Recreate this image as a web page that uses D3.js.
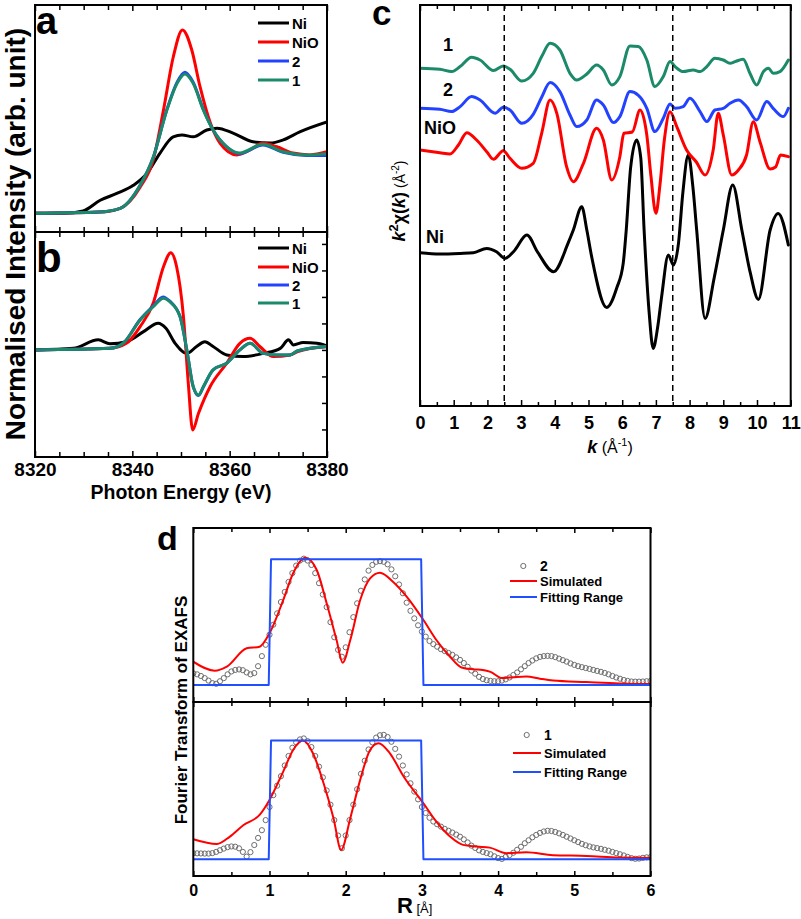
<!DOCTYPE html>
<html><head><meta charset="utf-8">
<script src="https://cdn.jsdelivr.net/npm/d3@7"></script>
<style>
body{margin:0;background:#fff}
svg{display:block}
text{font-family:"Liberation Sans",Arial,Helvetica,sans-serif}
</style>
</head><body>
<svg id="chart" width="801" height="919"></svg>
<script>
// ================= DATA =================
// Panel a : normalised XANES (energy in eV)
const aNiE  = [8320,8326,8329.9,8333.4,8336.8,8340.2,8343,8345.7,8348.4,8350.2,8352.5,8355.3,8357.4,8360.7,8364.8,8368.3,8371,8374.4,8380];
const aNiV  = [0,0,0.04,0.21,0.32,0.45,0.64,0.97,1.23,1.26,1.23,1.34,1.37,1.29,1.15,1.13,1.18,1.31,1.47];
const aNiOE = [8320,8333.4,8337.5,8341.6,8344.3,8346.4,8348.4,8350.3,8352.2,8353.9,8356,8358,8361.5,8364.2,8366.8,8369.7,8373,8376.5,8380];
const aNiOV = [0,0.02,0.08,0.42,0.86,1.66,2.51,2.95,2.63,2.04,1.46,1.13,0.94,1.02,1.13,1.07,0.97,0.94,0.99];
const aS2E  = [8320,8333,8337.5,8341.6,8344.3,8347.1,8349.2,8350.8,8352.5,8354.6,8356.6,8359.4,8362.1,8366.8,8371,8375.8,8380];
const aS2V  = [0,0.02,0.08,0.45,0.9,1.67,2.11,2.27,2.11,1.67,1.34,1.07,0.96,1.10,0.98,0.93,0.93];
const aS1E  = [8320,8333,8337.5,8341.6,8344.3,8347.1,8349.2,8350.8,8352.5,8354.6,8356.6,8359.4,8362.1,8366.8,8371,8375.8,8380];
const aS1V  = [0,0.02,0.08,0.45,0.9,1.66,2.09,2.24,2.09,1.66,1.34,1.07,0.97,1.11,0.99,0.94,0.96];

// Panel b : first derivative
const bNiE  = [8320,8327.9,8333,8335.4,8338.8,8342.3,8345.3,8346.9,8348.8,8351.2,8353.2,8354.9,8356.6,8359.4,8362.8,8366.9,8370.4,8372.1,8373.1,8375.1,8377.9,8380];
const bNiV  = [0,0.06,0.38,0.23,0.31,0.69,1.01,0.82,0.25,-0.13,0.13,0.31,0.13,-0.19,-0.25,-0.13,0.06,0.38,0.19,0.28,0.25,0.15];
const bNiOE = [8320,8335.4,8338.8,8341.6,8344.3,8346.4,8347.9,8349.1,8350.5,8351.5,8352.4,8353.6,8356,8359.4,8362.1,8364.2,8366.2,8369,8372.4,8374,8380];
const bNiOV = [0,0.06,0.25,0.88,1.77,3.14,3.67,3.14,1.26,-1.26,-3.02,-2.39,-1.38,-0.5,0.25,0.44,0.13,-0.25,-0.19,-0.06,0.13];
const bS2E  = [8320,8335.4,8338.1,8341.6,8344.3,8346.3,8347.7,8349.8,8351.2,8352.5,8353.6,8354.6,8356.6,8359.4,8362.1,8364.2,8366.9,8369.7,8372.4,8374,8380];
const bS2V  = [0,0.06,0.25,1.15,1.66,2.0,1.84,1.26,0,-1.38,-1.72,-1.40,-0.75,-0.5,0,0.25,-0.13,-0.19,-0.19,-0.03,0.13];
const bS1E  = [8320,8335.4,8338.1,8341.6,8344.3,8346.4,8347.7,8349.8,8351.2,8352.5,8353.6,8354.6,8356.6,8359.4,8362.1,8364.2,8366.9,8369.7,8372.4,8374,8380];
const bS1V  = [0,0.06,0.25,1.13,1.63,1.95,1.82,1.26,0,-1.38,-1.70,-1.38,-0.75,-0.5,0,0.25,-0.13,-0.19,-0.19,-0.03,0.13];

const energyMajor = [8320,8340,8360,8380];
const energyMinor = [8325,8330,8335,8345,8350,8355,8365,8370,8375];
const bRightTicks = [-3,-2,-1,0,1,2,3,4];
const abLegend = ["Ni","NiO","2","1"];

// Panel c : k^2 chi(k), each curve relative to its own baseline
const cNiK  = [0,0.59,1.19,1.58,1.98,2.27,2.52,2.8,3.17,3.5,3.96,4.4,4.55,4.8,4.95,5.1,5.54,5.84,6.03,6.12,6.25,6.43,6.55,6.65,6.8,6.92,7.05,7.17,7.37,7.52,7.67,7.8,7.96,8.1,8.21,8.46,8.73,9.0,9.28,9.55,9.8,10.04,10.39,10.63,10.93];
const cNiV  = [0,-0.13,-0.07,0,0.43,0.1,-0.57,0.2,1.77,0,-1.9,1.0,2.27,4.6,2.27,-0.5,-5.47,-3.5,-1.07,2.27,8.5,11.27,9.5,2.27,-6.0,-9.57,-7.5,-4.4,-0.23,-1.23,0.93,6.0,9.77,6.5,2.27,-6.57,-2.5,2.27,6.77,2.27,-2.0,-4.67,2.27,3.93,0.77];
const cNiOK = [0,0.59,0.89,1.14,1.39,1.68,1.98,2.18,2.47,2.67,3.02,3.36,3.61,3.86,4.06,4.35,4.55,4.85,5.24,5.44,5.69,5.93,6.05,6.3,6.53,6.73,6.85,7.0,7.12,7.25,7.42,7.62,7.91,8.2,8.46,8.7,8.85,9.0,9.25,9.45,9.69,9.89,10.09,10.39,10.55,10.7,10.93];
const cNiOV = [0,-0.27,-0.4,0.5,1.73,1.0,-0.17,-0.93,-0.07,-0.83,-1.83,-1.33,1.67,5.0,3.67,-1.67,-3.17,-1.33,2.17,1.0,-3.0,-0.67,1.67,1.8,4.0,1.5,-2.5,-6.33,-3.5,1.0,3.83,2.33,0,-1.2,-2.5,0,3.67,1.5,-2.5,-2.0,-0.5,2.83,0.8,-1.9,-1.7,-0.5,-0.67];
const cS2K  = [0,0.59,0.94,1.19,1.53,1.78,2.23,2.47,2.67,3.02,3.36,3.61,3.86,4.15,4.45,4.65,4.95,5.24,5.44,5.74,5.93,6.23,6.48,6.73,6.97,7.22,7.42,7.57,7.81,8.01,8.31,8.51,8.75,9.0,9.2,9.45,9.69,9.99,10.29,10.48,10.78,10.93];
const cS2V  = [0,-0.1,-0.33,0.17,1.17,0.83,-0.5,0.1,-0.17,-1.5,-0.6,1.1,2.57,1.67,-0.67,-1.83,-1.17,0.83,0.33,-1.43,-0.83,1.67,1.3,0,-2.33,-1.0,0.43,0,0.17,1.0,-0.33,-1.33,-0.17,0,0.5,0.83,0.17,-1.17,0.67,0,-0.83,0];
const cS1K  = [0,0.59,0.94,1.19,1.53,1.78,2.18,2.47,2.67,3.02,3.36,3.61,3.86,4.15,4.45,4.65,4.95,5.24,5.44,5.69,5.93,6.23,6.48,6.73,6.97,7.22,7.42,7.57,7.81,8.11,8.31,8.51,8.75,9.0,9.2,9.35,9.59,9.79,9.99,10.19,10.34,10.48,10.68,10.93];
const cS1V  = [0,-0.1,-0.33,0.17,1.1,0.83,-0.23,0.23,-0.1,-1.27,-0.5,1.17,2.5,1.83,-0.5,-1.17,-0.57,0.33,-0.17,-1.67,-0.83,2.23,2.17,0.83,-1.83,-0.83,0.67,0.17,-0.33,-0.17,-0.33,0.17,1.0,0.83,0.5,0.67,0.9,-0.5,-1.67,-0.33,0,-0.5,-0.33,0.83];
const cOffsets = [0, 10.27, 14.44, 18.44];           // Ni, NiO, 2, 1
const cCurveLabels = ["Ni","NiO","2","1"];
const kMajor = [0,1,2,3,4,5,6,7,8,9,10,11];
const kMinor = [0.5,1.5,2.5,3.5,4.5,5.5,6.5,7.5,8.5,9.5,10.5];
const kWindow = [2.5, 7.5];

// Panel d : Fourier transform magnitude (normalised)
const dR = d3.range(0, 121).map(i => +(i * 0.05).toFixed(2));
const dExp2 = [0.093,0.085,0.072,0.055,0.035,0.015,0.010,0.030,0.055,0.085,0.108,0.120,0.124,0.118,0.100,0.085,0.095,0.150,0.230,0.320,
 0.400,0.480,0.570,0.660,0.740,0.820,0.890,0.950,0.990,1.005,0.990,0.955,0.890,0.810,0.720,0.620,0.500,0.380,0.280,0.225,
 0.300,0.420,0.540,0.650,0.750,0.840,0.910,0.955,0.980,0.985,0.980,0.960,0.920,0.865,0.800,0.730,0.655,0.590,0.530,0.475,
 0.425,0.385,0.350,0.325,0.305,0.285,0.270,0.255,0.240,0.220,0.200,0.175,0.145,0.115,0.090,0.065,0.048,0.038,0.033,0.030,
 0.030,0.035,0.045,0.060,0.080,0.100,0.125,0.150,0.175,0.195,0.212,0.224,0.230,0.232,0.230,0.222,0.210,0.198,0.186,0.172,
 0.160,0.150,0.142,0.135,0.128,0.120,0.112,0.105,0.096,0.085,0.072,0.060,0.050,0.040,0.033,0.028,0.027,0.027,0.028,0.030,0.032];
const dExp1 = [0.051,0.050,0.049,0.048,0.048,0.052,0.062,0.076,0.090,0.102,0.108,0.106,0.092,0.062,0.022,0.060,0.120,0.180,0.245,0.330,
 0.440,0.540,0.620,0.700,0.790,0.870,0.940,0.985,1.010,1.018,0.995,0.945,0.870,0.780,0.690,0.580,0.460,0.330,0.200,0.093,
 0.200,0.330,0.460,0.590,0.720,0.830,0.925,0.985,1.025,1.045,1.048,1.030,0.990,0.930,0.865,0.790,0.715,0.640,0.570,0.505,
 0.440,0.390,0.350,0.318,0.295,0.275,0.256,0.240,0.225,0.208,0.190,0.168,0.142,0.115,0.095,0.075,0.062,0.052,0.042,0.025,
 0.010,0.003,0.020,0.035,0.055,0.080,0.105,0.135,0.160,0.185,0.205,0.222,0.234,0.240,0.238,0.230,0.218,0.205,0.190,0.175,
 0.160,0.145,0.130,0.118,0.108,0.100,0.094,0.088,0.080,0.072,0.062,0.052,0.042,0.032,0.020,0.010,0.004,0.006,0.012,0.016,0.018];
const dSim2R = [0,0.28,0.44,0.7,0.87,1.0,1.18,1.31,1.47,1.62,1.75,1.88,1.96,2.06,2.19,2.32,2.45,2.62,2.8,3.02,3.19,3.37,3.52,3.67,3.8,3.9,4.05,4.2,4.37,4.55,4.72,5.16,5.59,6.0];
const dSim2V = [0.186,0.114,0.146,0.292,0.305,0.411,0.676,0.889,1.012,0.915,0.65,0.358,0.178,0.358,0.676,0.849,0.894,0.822,0.703,0.517,0.358,0.225,0.14,0.125,0.12,0.105,0.055,0.062,0.068,0.05,0.036,0.024,0.013,0.008];
const dSim1R = [0,0.31,0.48,0.66,0.87,1.0,1.18,1.31,1.44,1.57,1.71,1.84,1.94,2.06,2.19,2.32,2.43,2.58,2.76,3.02,3.19,3.37,3.54,3.72,3.89,4.11,4.37,4.72,5.16,5.59,6.0];
const dSim1V = [0.169,0.129,0.191,0.289,0.374,0.5,0.739,0.921,1.0,0.893,0.64,0.346,0.079,0.346,0.669,0.921,0.978,0.893,0.697,0.472,0.317,0.191,0.121,0.107,0.098,0.051,0.059,0.034,0.028,0.014,0.011];
const dFitR = [0,0.99,1.02,2.99,3.02,6];
const dFitV = [0,0,1,1,0,0];
const rMajor = [0,1,2,3,4,5,6];
const rMinor = [0.5,1.5,2.5,3.5,4.5,5.5];
const dLegend = ["Simulated","Fitting Range"];

// ================= STYLE =================
const C = {black:"#000000", red:"#ff0000", blue:"#2342ff", green:"#1a8a68", gray:"#6e6e6e", fitBlue:"#1f4fff"};
const svg = d3.select("#chart");

function clip(id, x0, y0, x1, y1){
  svg.append("clipPath").attr("id", id).append("rect")
    .attr("x", x0).attr("y", y0).attr("width", x1 - x0).attr("height", y1 - y0);
}
function series(xs, ys, off){ return xs.map((x, i) => [x, ys[i] + (off || 0)]); }
function drawLine(clipId, pts, xs, ys, color, w, curve){
  svg.append("path").datum(pts)
    .attr("clip-path", `url(#${clipId})`)
    .attr("fill", "none").attr("stroke", color).attr("stroke-width", w)
    .attr("stroke-linejoin", "round").attr("stroke-linecap", "round")
    .attr("d", d3.line().x(d => xs(d[0])).y(d => ys(d[1])).curve(curve || d3.curveMonotoneX));
}
function frame(x0, y0, x1, y1, w){
  svg.append("rect").attr("x", x0).attr("y", y0).attr("width", x1 - x0).attr("height", y1 - y0)
    .attr("fill", "none").attr("stroke", "#000").attr("stroke-width", w || 2);
}
function xTicks(scale, y, orient, values, len, opts){
  opts = opts || {};
  const ax = (orient === "bottom" ? d3.axisBottom(scale) : d3.axisTop(scale))
    .tickValues(values).tickSize(-len).tickPadding(opts.pad || 6)
    .tickFormat(opts.labels ? (d => String(d)) : "");
  const g = svg.append("g").attr("transform", `translate(0,${y})`).call(ax);
  g.select(".domain").remove();
  g.selectAll("line").attr("stroke", "#000").attr("stroke-width", 1.5);
  g.selectAll("text").attr("fill", "#000")
    .style("font-size", (opts.fs || 16) + "px").style("font-weight", "bold")
    .style("font-family", '"Liberation Sans",Arial,sans-serif');
  return g;
}
function txt(x, y, s, fs, weight, anchor){
  return svg.append("text").attr("x", x).attr("y", y).text(s)
    .style("font-size", fs + "px").style("font-weight", weight || "bold")
    .attr("text-anchor", anchor || "start").attr("fill", "#000");
}

// ================= PANELS a & b =================
const abX = d3.scaleLinear([8320, 8380], [35, 327]);
const aY  = d3.scaleLinear([-0.30, 3.35], [232, 5]);
const bY  = d3.scaleLinear([-4.04, 4.45], [457, 232]);
clip("clipA", 35, 5, 327, 232);
clip("clipB", 35, 232, 327, 457);

const abColors = [C.black, C.red, C.blue, C.green];
[[aNiE, aNiV], [aNiOE, aNiOV], [aS2E, aS2V], [aS1E, aS1V]].forEach((s, i) =>
  drawLine("clipA", series(s[0], s[1]), abX, aY, abColors[i], 3));
[[bNiE, bNiV], [bNiOE, bNiOV], [bS2E, bS2V], [bS1E, bS1V]].forEach((s, i) =>
  drawLine("clipB", series(s[0], s[1]), abX, bY, abColors[i], 3));

frame(35, 5, 327, 232);
frame(35, 232, 327, 457);
xTicks(abX, 5, "top", energyMajor, 6);
xTicks(abX, 5, "top", energyMinor, 5);
xTicks(abX, 232, "bottom", energyMajor, 6);
xTicks(abX, 232, "bottom", energyMinor, 5);
xTicks(abX, 232, "top", energyMajor, 6);
xTicks(abX, 232, "top", energyMinor, 5);
xTicks(abX, 457, "bottom", energyMinor, 5);
xTicks(abX, 457, "bottom", energyMajor, 6, {labels: true, fs: 19, pad: 6});
{
  const g = svg.append("g").attr("transform", "translate(327,0)")
    .call(d3.axisLeft(bY).tickValues(bRightTicks).tickSize(5).tickFormat(""));
  g.select(".domain").remove();
  g.selectAll("line").attr("stroke", "#000").attr("stroke-width", 1.5);
}

// legends a, b
[[23, 42, 61, 80], [248, 267, 285, 303]].forEach(rows => {
  abLegend.forEach((name, i) => {
    svg.append("line").attr("x1", 258).attr("x2", 289).attr("y1", rows[i]).attr("y2", rows[i])
      .attr("stroke", abColors[i]).attr("stroke-width", 3);
    txt(292, rows[i] + 5.5, name, 15);
  });
});
txt(36, 34, "a", 38);
txt(36, 272, "b", 42);
svg.append("text").attr("transform", "translate(25,234) rotate(-90)").attr("text-anchor", "middle")
  .style("font-size", "28px").style("font-weight", "bold").text("Normalised Intensity (arb. unit)");
txt(181, 499, "Photon Energy (eV)", 19.5, "bold", "middle");

// ================= PANEL c =================
const cX = d3.scaleLinear([0, 11], [420, 790.7]);
const cY = d3.scaleLinear([-15.33, 24.77], [406, 5]);
clip("clipC", 420, 5, 790.7, 406);
const cColors = [C.black, C.red, C.blue, C.green];
[[cNiK, cNiV], [cNiOK, cNiOV], [cS2K, cS2V], [cS1K, cS1V]].forEach((s, i) =>
  drawLine("clipC", series(s[0], s[1], cOffsets[i]), cX, cY, cColors[i], 3));
kWindow.forEach(k => {
  svg.append("line").attr("x1", cX(k)).attr("x2", cX(k)).attr("y1", 5).attr("y2", 406)
    .attr("stroke", "#000").attr("stroke-width", 1.5).attr("stroke-dasharray", "6,4");
});
frame(420, 5, 790.7, 406);
xTicks(cX, 5, "top", kMajor, 6);
xTicks(cX, 5, "top", kMinor, 4);
xTicks(cX, 406, "bottom", kMinor, 4);
xTicks(cX, 406, "bottom", kMajor, 6, {labels: true, fs: 18, pad: 10});
// curve labels
const cLabelPos = [[426, 243], [424, 134], [443, 96], [443, 51]];
cCurveLabels.forEach((s, i) => txt(cLabelPos[i][0], cLabelPos[i][1], s, 18));
txt(372, 25, "c", 35);
{
  const t = svg.append("text").attr("transform", "translate(405,201) rotate(-90)")
    .attr("text-anchor", "middle").style("font-size", "18px");
  t.append("tspan").text("k").style("font-weight", "bold").style("font-style", "italic");
  t.append("tspan").text("2").style("font-weight", "bold").style("font-size", "13px").attr("dy", -7);
  t.append("tspan").text("χ(").style("font-weight", "bold").attr("dy", 7);
  t.append("tspan").text("k").style("font-weight", "bold").style("font-style", "italic");
  t.append("tspan").text(")").style("font-weight", "bold");
  t.append("tspan").text(" (Å").style("font-size", "14px");
  t.append("tspan").text("-2").style("font-size", "10px").attr("dy", -6);
  t.append("tspan").text(")").style("font-size", "14px").attr("dy", 6);
}
{
  const t = svg.append("text").attr("x", 610).attr("y", 453).attr("text-anchor", "middle").style("font-size", "18px");
  t.append("tspan").text("k").style("font-weight", "bold").style("font-style", "italic");
  t.append("tspan").text(" (Å").style("font-size", "16px");
  t.append("tspan").text("-1").style("font-size", "11px").attr("dy", -7);
  t.append("tspan").text(")").style("font-size", "16px").attr("dy", 7);
}

// ================= PANEL d =================
const dX  = d3.scaleLinear([0, 6], [193.3, 650.5]);
const d2Y = d3.scaleLinear([-0.135, 1.249], [702, 528]);
const d1Y = d3.scaleLinear([-0.141, 1.325], [876, 702]);
clip("clipD2", 193.3, 528, 650.5, 702);
clip("clipD1", 193.3, 702, 650.5, 876);

function drawD(clipId, yS, exp, simR, simV){
  svg.append("g").attr("clip-path", `url(#${clipId})`).selectAll("circle")
    .data(dR.map((r, i) => [r, exp[i]])).join("circle")
    .attr("cx", d => dX(d[0])).attr("cy", d => yS(d[1])).attr("r", 2.6)
    .attr("fill", "none").attr("stroke", C.gray).attr("stroke-width", 1);
  drawLine(clipId, series(simR, simV), dX, yS, C.red, 2);
  drawLine(clipId, series(dFitR, dFitV), dX, yS, C.fitBlue, 2, d3.curveLinear);
}
drawD("clipD2", d2Y, dExp2, dSim2R, dSim2V);
drawD("clipD1", d1Y, dExp1, dSim1R, dSim1V);

frame(193.3, 528, 650.5, 702);
frame(193.3, 702, 650.5, 876);
xTicks(dX, 528, "top", rMajor, 5);
xTicks(dX, 528, "top", rMinor, 4);
xTicks(dX, 702, "bottom", rMajor, 5);
xTicks(dX, 702, "bottom", rMinor, 4);
xTicks(dX, 702, "top", rMajor, 5);
xTicks(dX, 702, "top", rMinor, 4);
xTicks(dX, 876, "bottom", rMinor, 4);
xTicks(dX, 876, "bottom", rMajor, 5, {labels: true, fs: 16, pad: 9});

// legends d
function legendD(cx, cy, label, lx0, lx1, ry, by, tx){
  svg.append("circle").attr("cx", cx).attr("cy", cy).attr("r", 2.6)
    .attr("fill", "none").attr("stroke", C.gray).attr("stroke-width", 1);
  txt(tx, cy + 5, label, 14);
  svg.append("line").attr("x1", lx0).attr("x2", lx1).attr("y1", ry).attr("y2", ry).attr("stroke", C.red).attr("stroke-width", 2);
  txt(tx, ry + 5, dLegend[0], 13);
  svg.append("line").attr("x1", lx0).attr("x2", lx1).attr("y1", by).attr("y2", by).attr("stroke", C.fitBlue).attr("stroke-width", 2);
  txt(tx, by + 5, dLegend[1], 13);
}
legendD(523.3, 566, "2", 510, 537, 581, 597, 540);
legendD(526.7, 735, "1", 513, 541, 753, 772, 544);

txt(157, 550, "d", 34);
svg.append("text").attr("transform", "translate(187,710) rotate(-90)").attr("text-anchor", "middle")
  .style("font-size", "17px").style("font-weight", "bold").text("Fourier Transform of EXAFS");
{
  const t = svg.append("text").attr("x", 397).attr("y", 913);
  t.append("tspan").text("R").style("font-size", "22px").style("font-weight", "bold");
  t.append("tspan").text(" [Å]").style("font-size", "13px");
}
</script>
</body></html>
